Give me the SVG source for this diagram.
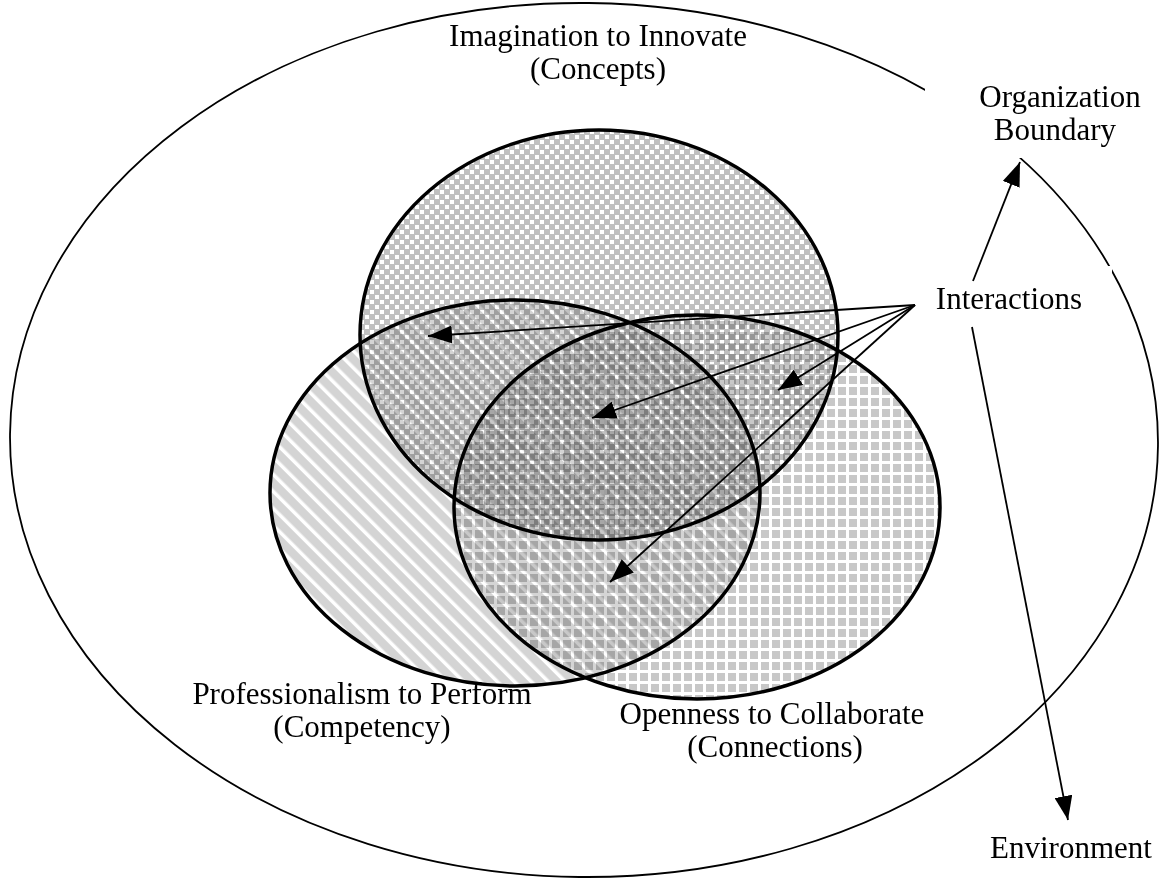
<svg xmlns="http://www.w3.org/2000/svg" width="1168" height="892" viewBox="0 0 1168 892">
<style>
text{font-family:"Liberation Serif","Times New Roman",serif;font-size:31px;fill:#000;text-anchor:middle}
.ring{stroke:#000;stroke-width:3.5;mix-blend-mode:multiply}
.outer{fill:none;stroke:#000;stroke-width:1.8}
.link{fill:none;stroke:#000;stroke-width:1.8}
.mask{fill:#fff;stroke:none}
</style>
<defs>
<pattern id="pDots" width="10" height="10" patternUnits="userSpaceOnUse">
<rect width="10" height="10" fill="#c0c0c0"/>
<rect x="0" y="0" width="4" height="4" fill="#fff"/>
<rect x="5" y="5" width="4" height="4" fill="#fff"/>
</pattern>
<pattern id="pStripes" width="12" height="12" patternUnits="userSpaceOnUse" patternTransform="rotate(-45)">
<rect width="12" height="12" fill="#d4d4d4"/>
<rect x="0" y="0" width="3.5" height="12" fill="#fff"/>
</pattern>
<pattern id="pGrid" width="11" height="11" patternUnits="userSpaceOnUse">
<rect width="11" height="11" fill="#fff"/>
<rect x="2" y="2" width="8" height="8" fill="#c8c8c8"/>
</pattern>
<marker id="arr" viewBox="0 0 24 18" refX="24" refY="9" markerWidth="24" markerHeight="18" markerUnits="userSpaceOnUse" orient="auto">
<path d="M0,0 L24,9 L0,18 Z" fill="#000"/>
</marker>
</defs>
<rect width="1168" height="892" fill="#fff"/>
<g id="organization-boundary">
<ellipse class="outer" cx="584" cy="440" rx="574" ry="437" transform="rotate(0.6 584 440)"/>
<rect class="mask" x="925" y="50" width="200" height="108"/>
<rect class="mask" x="925" y="266" width="187" height="56"/>
</g>
<g id="node-imagination">
<ellipse class="ring" cx="599" cy="335" rx="239" ry="205" fill="url(#pDots)"/>
<text x="598" y="46" font-size="30">Imagination to Innovate</text>
<text x="598" y="79" font-size="30">(Concepts)</text>
</g>
<g id="node-professionalism">
<ellipse class="ring" cx="515" cy="493" rx="245" ry="193" fill="url(#pStripes)"/>
<text x="362" y="704">Professionalism to Perform</text>
<text x="362" y="737">(Competency)</text>
</g>
<g id="node-openness">
<ellipse class="ring" cx="697" cy="507" rx="243" ry="192" fill="url(#pGrid)"/>
<text x="772" y="724">Openness to Collaborate</text>
<text x="775" y="757">(Connections)</text>
</g>
<g id="node-organization">
<text x="1060" y="107">Organization</text>
<text x="1055" y="140">Boundary</text>
</g>
<g id="node-interactions">
<text x="1009" y="309">Interactions</text>
</g>
<g id="node-environment">
<text x="1071" y="858">Environment</text>
</g>
<g id="connectors">
<line class="link" x1="915" y1="305" x2="428" y2="336" marker-end="url(#arr)"/>
<line class="link" x1="915" y1="305" x2="592" y2="418" marker-end="url(#arr)"/>
<line class="link" x1="915" y1="305" x2="778" y2="390" marker-end="url(#arr)"/>
<line class="link" x1="915" y1="305" x2="610" y2="582" marker-end="url(#arr)"/>
<line class="link" x1="973" y1="281" x2="1020" y2="162" marker-end="url(#arr)"/>
<line class="link" x1="972" y1="327" x2="1068" y2="820" marker-end="url(#arr)"/>
</g>
</svg>
